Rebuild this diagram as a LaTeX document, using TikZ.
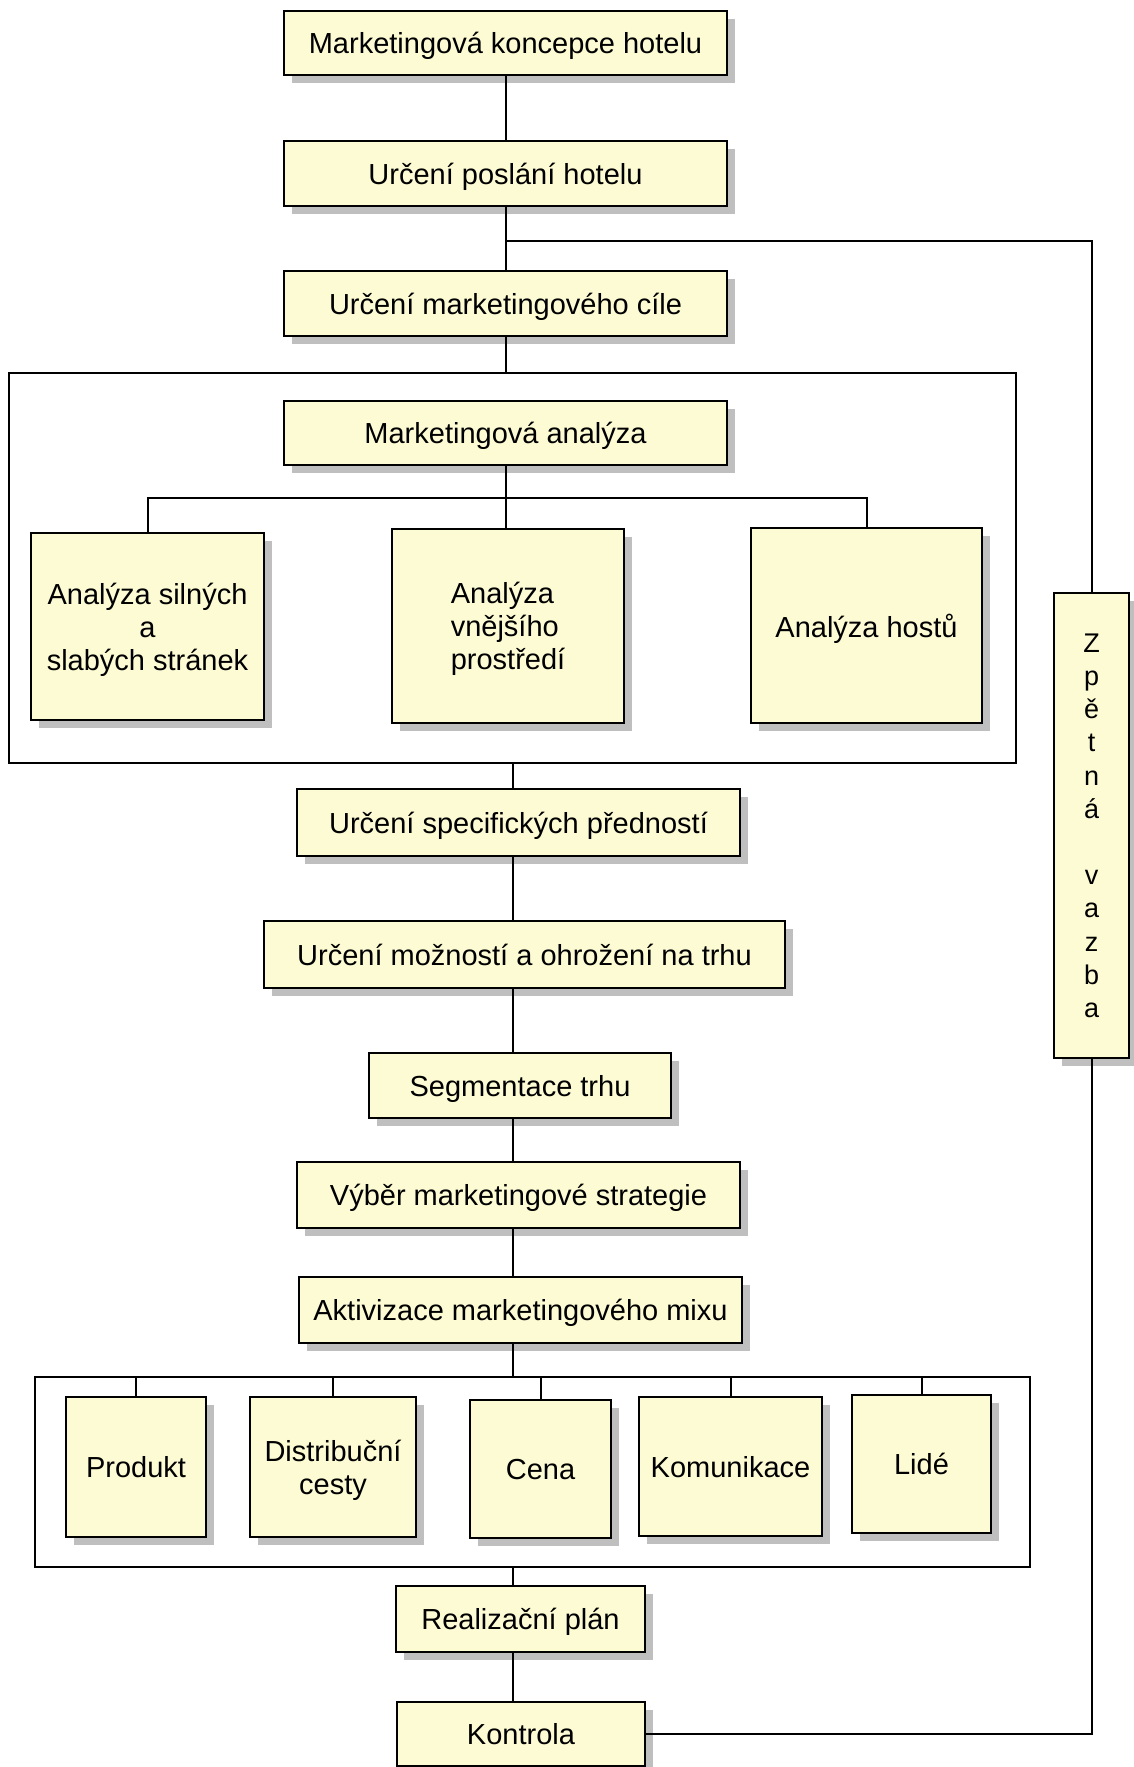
\documentclass[tikz,border=0pt]{standalone}
\usepackage{fontspec}
\setmainfont{Liberation Sans}
\usetikzlibrary{shadows}

\definecolor{boxfill}{RGB}{253,251,212}
\tikzset{
    blok/.style={draw, line width=2.6pt, fill=boxfill, inner sep=0pt, align=center,
        font=\fontsize{29}{33}\selectfont, text depth=0pt,
        drop shadow={shadow xshift=8pt, shadow yshift=-8pt, fill=black!25, opacity=1}},
    ramec/.style={draw, line width=2.4pt, inner sep=0pt},
    spoj/.style={line width=2pt},
}

\begin{document}
\begin{tikzpicture}[x=1pt, y=-1pt]
    \useasboundingbox (0,0) rectangle (1133,1767);

    % rámečky
    \node[ramec, minimum width=1007pt, minimum height=390pt] (fr1) at (512.5,568) {};
    \node[ramec, minimum width=995pt, minimum height=190pt] (fr2) at (532.5,1472) {};

    % horní část
    \node[blok, minimum width=443pt, minimum height=64pt] (mk) at (505.5,43) {Marketingová koncepce hotelu};
    \node[blok, minimum width=443pt, minimum height=65pt] (up) at (505.5,173.5) {Určení poslání hotelu};
    \node[blok, minimum width=443pt, minimum height=65pt] (umc) at (505.5,303.5) {Určení marketingového cíle};

    % analýza
    \node[blok, minimum width=443pt, minimum height=64pt] (ma) at (505.5,433) {Marketingová analýza};
    \node[blok, minimum width=233pt, minimum height=187pt] (asl) at (147.5,626.5) {Analýza silných\\a\\slabých stránek};
    \node[blok, align=left, minimum width=232pt, minimum height=194pt] (avp) at (508,626) {Analýza\\vnějšího\\prostředí};
    \node[blok, minimum width=231pt, minimum height=195pt] (ah) at (866.5,625.5) {Analýza hostů};

    % střední část
    \node[blok, minimum width=443pt, minimum height=67pt] (usp) at (518.5,822.5) {Určení specifických předností};
    \node[blok, minimum width=521pt, minimum height=67pt] (umo) at (524.5,954.5) {Určení možností a ohrožení na trhu};
    \node[blok, minimum width=302pt, minimum height=65pt] (st) at (520,1085.5) {Segmentace trhu};
    \node[blok, minimum width=443pt, minimum height=66pt] (vms) at (518.5,1195) {Výběr marketingové strategie};
    \node[blok, minimum width=443pt, minimum height=66pt] (amm) at (520.5,1310) {Aktivizace marketingového mixu};

    % marketingový mix
    \node[blok, minimum width=140pt, minimum height=140pt] (prod) at (136,1467) {Produkt};
    \node[blok, minimum width=166pt, minimum height=140pt] (dist) at (333,1467) {Distribuční\\cesty};
    \node[blok, minimum width=141pt, minimum height=138pt] (cena) at (540.5,1469) {Cena};
    \node[blok, minimum width=183pt, minimum height=139pt] (kom) at (730.5,1466.5) {Komunikace};
    \node[blok, minimum width=139pt, minimum height=138pt] (lide) at (921.5,1464) {Lidé};

    % spodní část
    \node[blok, minimum width=249pt, minimum height=66pt] (rp) at (520.5,1619) {Realizační plán};
    \node[blok, minimum width=248pt, minimum height=64pt] (kon) at (521,1734) {Kontrola};

    % zpětná vazba
    \node[blok, minimum width=75pt, minimum height=465pt, font=\fontsize{27}{33.2}\selectfont] (zv) at (1091.5,825.5)
        {Z\\p\\ě\\t\\n\\á\\\mbox{}\\v\\a\\z\\b\\a};

    % spojnice nahoře
    \coordinate (fb) at (505.5,241);
    \coordinate (bus) at (505.5,498);
    \draw[spoj] (mk) -- (up);
    \draw[spoj] (up) -- (umc);
    \draw[spoj] (umc.south) -- (umc.south |- fr1.north);
    \draw[spoj] (ma.south) -- (ma.south |- avp.north);
    \draw[spoj] (asl.north) |- (bus) -| (ah.north);

    % spojnice dole
    \draw[spoj] (fr1.south) -- (fr1.south |- usp.north);
    \foreach \a/\b in {usp/umo, umo/st, st/vms, vms/amm} {
        \draw[spoj] (\a.south -| fr1.south) -- (\b.north -| fr1.south);
    }
    \draw[spoj] (amm.south -| fr1.south) -- (fr2.north -| fr1.south);
    \foreach \n in {prod, dist, cena, kom, lide} {
        \draw[spoj] (\n.north) -- (\n.north |- fr2.north);
    }
    \draw[spoj] (fr2.south -| fr1.south) -- (rp.north -| fr1.south);
    \draw[spoj] (rp.south -| fr1.south) -- (kon.north -| fr1.south);

    % zpětná vazba
    \draw[spoj] (kon.east) -| (zv.south);
    \draw[spoj] (zv.north) |- (fb);
\end{tikzpicture}
\end{document}
